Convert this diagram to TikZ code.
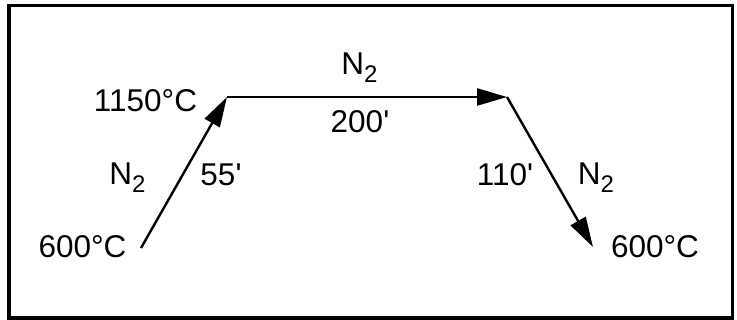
\documentclass[tikz,border=0pt]{standalone}
\usepackage{fontspec}
\setmainfont{Liberation Sans}
\usetikzlibrary{arrows.meta}
\newcommand{\ntwo}{N\raisebox{-7.5pt}{\fontsize{24}{24}\selectfont 2}}
\begin{document}
\begin{tikzpicture}[x=1pt,y=-1pt,
  lbl/.style={inner sep=0pt,anchor=base,font=\fontsize{31.5}{31.5}\selectfont},
  flow/.style={line width=2.4pt,-{Triangle[length=30pt,width=17pt]}},
  frame/.style={line width=3.6pt}]
\useasboundingbox (0,0) rectangle (737,320);
\draw[frame] (9.2,5.7) rectangle (732.5,318);
\coordinate (a) at (141,248);
\coordinate (b) at (227,97);
\coordinate (c) at (507,97);
\coordinate (d) at (593,247);
\draw[flow] (a) -- (b);
\draw[flow] (b) -- (c);
\draw[flow] (c) -- (d);
\node[lbl] (t1) at (82.5,258) {600°C};
\node[lbl] (t2) at (145.5,111.7) {1150°C};
\node[lbl] (t3) at (359.4,75) {\ntwo};
\node[lbl] (t4) at (360,133) {200\textquotesingle};
\node[lbl] (t5) at (127.5,185) {\ntwo};
\node[lbl] (t6) at (221,186) {55\textquotesingle};
\node[lbl] (t7) at (505,186) {110\textquotesingle};
\node[lbl] (t8) at (596,185) {\ntwo};
\node[lbl] (t9) at (655,258) {600°C};
\end{tikzpicture}
\end{document}
